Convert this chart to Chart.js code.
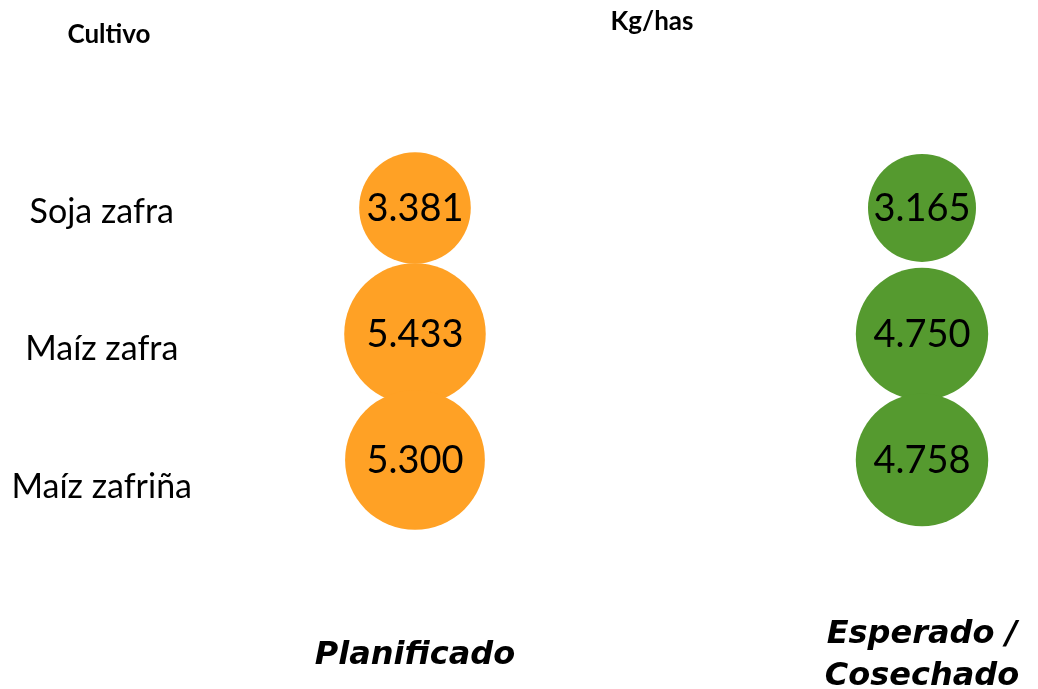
<!DOCTYPE html>
<html>
<head>
<meta charset="utf-8">
<script src="https://cdn.jsdelivr.net/npm/chart.js@4.4.0/dist/chart.umd.min.js"></script>
<style>
  html, body { margin: 0; padding: 0; background: #ffffff; }
  #wrap { width: 1038px; height: 689px; }
</style>
</head>
<body>
<div id="wrap"><canvas id="bubbleChart"></canvas></div>
<script>
// datos
const cultivos = ['Soja zafra', 'Maíz zafra', 'Maíz zafriña'];
const columnas = [['Planificado'], ['Esperado /', 'Cosechado']];
const planificado = [3381, 5433, 5300];
const cosechado = [3165, 4750, 4758];

const colorPlan = '#FFA125';
const colorCose = '#559A2F';

// radio proporcional al area (como Excel)
function radio(v) {
    return Math.sqrt(v) * 0.96;
}

function puntos(valores, col) {
    return valores.map((v, i) => ({ x: col, y: i, r: radio(v), v: v }));
}

// etiquetas de valor dentro de las burbujas
const valorLabels = {
    id: 'valorLabels',
    afterDatasetsDraw(chart) {
        const ctx = chart.ctx;
        ctx.save();
        ctx.font = '38px Lato, sans-serif';
        ctx.fillStyle = '#000000';
        ctx.textAlign = 'center';
        ctx.textBaseline = 'middle';
        chart.data.datasets.forEach((ds, di) => {
            chart.getDatasetMeta(di).data.forEach((el, i) => {
                const txt = ds.data[i].v.toLocaleString('de-DE');
                ctx.fillText(txt, el.x, el.y + 1);
            });
        });
        ctx.restore();
    }
};

// encabezados
const encabezados = {
    id: 'encabezados',
    afterDraw(chart) {
        const ctx = chart.ctx;
        ctx.save();
        ctx.font = 'bold 26px Lato, sans-serif';
        ctx.fillStyle = '#000000';
        ctx.textAlign = 'center';
        ctx.textBaseline = 'middle';
        ctx.fillText('Cultivo', 109, 35);
        ctx.fillText('Kg/has', 652, 22);
        ctx.restore();
    }
};

const ctx = document.getElementById('bubbleChart').getContext('2d');
new Chart(ctx, {
    type: 'bubble',
    data: {
        datasets: [
            {
                label: 'Planificado',
                data: puntos(planificado, 0),
                backgroundColor: colorPlan,
                borderColor: colorPlan,
                borderWidth: 0,
                yAxisID: 'y'
            },
            {
                label: 'Esperado / Cosechado',
                data: puntos(cosechado, 1),
                backgroundColor: colorCose,
                borderColor: colorCose,
                borderWidth: 0,
                yAxisID: 'y'
            }
        ]
    },
    options: {
        responsive: true,
        maintainAspectRatio: false,
        animation: false,
        layout: { autoPadding: false, padding: { top: 100, right: 8, left: 0, bottom: 0 } },
        plugins: {
            legend: { display: false },
            tooltip: { enabled: false }
        },
        scales: {
            x: {
                type: 'linear',
                min: -0.424,
                max: 1.213,
                grid: { display: false, drawTicks: false },
                border: { display: false },
                afterBuildTicks: function(scale) {
                    scale.ticks = columnas.map((c, i) => ({ value: i }));
                },
                afterFit: function(scale) {
                    scale.height = 129;
                    scale.paddingLeft = 0;
                    scale.paddingRight = 0;
                },
                ticks: {
                    padding: 75,
                    crossAlign: 'center',
                    maxRotation: 0,
                    autoSkip: false,
                    color: '#000000',
                    font: { family: '"DejaVu Sans", sans-serif', size: 32, weight: 'bold', style: 'italic', lineHeight: 1.31 },
                    callback: function(value) { return columnas[value]; }
                }
            },
            y: {
                type: 'linear',
                display: false,
                reverse: true,
                min: -0.857,
                max: 2.794
            },
            yl: {
                type: 'linear',
                position: 'left',
                reverse: true,
                min: -0.8145,
                max: 2.531,
                grid: { display: false, drawTicks: false },
                border: { display: false },
                afterBuildTicks: function(scale) {
                    scale.ticks = cultivos.map((c, i) => ({ value: i }));
                },
                afterFit: function(scale) {
                    scale.width = 200;
                    scale.paddingTop = 0;
                    scale.paddingBottom = 0;
                },
                ticks: {
                    crossAlign: 'center',
                    padding: 8,
                    autoSkip: false,
                    color: '#000000',
                    font: { family: 'Lato, sans-serif', size: 34 },
                    callback: function(value) { return cultivos[value]; }
                }
            }
        }
    },
    plugins: [valorLabels, encabezados]
});
</script>
</body>
</html>
